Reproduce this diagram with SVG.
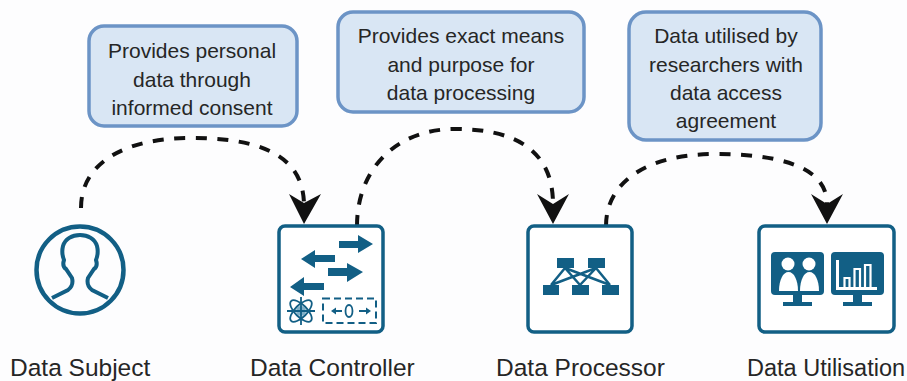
<svg xmlns="http://www.w3.org/2000/svg" width="907" height="381" viewBox="0 0 907 381">
<style>
text{font-family:"Liberation Sans",Arial,sans-serif;fill:#262626}
.note{font-size:21px;text-anchor:middle}
.label{font-size:24.500px}
.callout{fill:#d9e6f4;stroke:#6c94c6;stroke-width:3.500}
.frame{fill:#fff;stroke:#125f85;stroke-width:3.500}
.ink{fill:#125f85}
.line{fill:none;stroke:#125f85}
.dash{fill:none;stroke:#111;stroke-width:4;stroke-dasharray:11 10.500}
.head{fill:#111}
</style>
<rect width="907" height="381" fill="#fdfdfe"/>
<g id="connectors">
<path class="dash" d="M81,208C81,160 130,138 190,138C250,138 303,150 304,204"/>
<polygon class="head" points="304,224 289,194 304,203 321,194"/>
<path class="dash" d="M357,226C357,170 395,129 455,129C515,129 553,150 553,204"/>
<polygon class="head" points="553,224 537,194 553,204 569,194"/>
<path class="dash" d="M606,226C606,180 650,154 715,154C775,154 827,165 827,204"/>
<polygon class="head" points="827,224 811,194 827,204 843,194"/>
</g>
<g id="note-subject">
<rect class="callout" x="89" y="26" width="208" height="100" rx="15"/>
<text class="note" x="192" y="58">Provides personal</text>
<text class="note" x="192" y="87">data through</text>
<text class="note" x="192" y="115">informed consent</text>
</g>
<g id="note-controller">
<rect class="callout" x="338" y="12" width="246" height="100" rx="15"/>
<text class="note" x="461" y="43">Provides exact means</text>
<text class="note" x="461" y="72">and purpose for</text>
<text class="note" x="461" y="100">data processing</text>
</g>
<g id="note-processor">
<rect class="callout" x="629" y="12" width="192" height="128" rx="17"/>
<text class="note" x="726" y="43">Data utilised by</text>
<text class="note" x="726" y="72">researchers with</text>
<text class="note" x="726" y="100">data access</text>
<text class="note" x="726" y="128">agreement</text>
</g>
<g id="data-subject">
<circle class="line" cx="80" cy="270" r="43.500" stroke-width="4.500"/>
<path class="line" stroke-width="4" d="M52,298L68,290C72,287 73,282 72,278C70,275 68,272 66,269C63,267 63,263 64,260C62,255 62,250 63,246C65,239 72,235 80,235C88,235 95,239 97,246C98,250 98,255 96,260C97,263 97,267 94,269C92,272 90,275 88,278C87,282 88,287 92,290L108,298"/>
<text class="label" x="10" y="375.500">Data Subject</text>
</g>
<g id="data-controller">
<rect class="frame" x="279" y="226" width="104" height="106" rx="6"/>
<polygon class="ink" points="339,241 358,241 358,235 373,244 358,253 358,248 339,248"/>
<polygon class="ink" points="335,255 315,255 315,250 301,259 315,268 315,262 335,262"/>
<polygon class="ink" points="328,268 347,268 347,263 363,272 347,282 347,276 328,276"/>
<polygon class="ink" points="324,283 304,283 304,277 290,287 304,296 304,290 324,290"/>
<circle cx="301" cy="311" r="5" fill="#7fb0c8"/>
<g class="line" stroke-width="1.800">
<ellipse cx="301" cy="311" rx="14" ry="6" transform="rotate(45 301 311)"/>
<ellipse cx="301" cy="311" rx="14" ry="6" transform="rotate(-45 301 311)"/>
<path d="M301,297V325M287,311H315"/>
</g>
<rect class="line" x="323" y="298.500" width="53" height="24.500" stroke-width="2" stroke-dasharray="7 4"/>
<ellipse class="line" cx="349" cy="311" rx="3.500" ry="6" stroke-width="1.800"/>
<path class="line" stroke-width="2" d="M336,311H342M359,311H366"/>
<polygon class="ink" points="331,311 336,307.500 336,314.500"/>
<polygon class="ink" points="371,311 366,307.500 366,314.500"/>
<text class="label" x="250" y="375.500">Data Controller</text>
</g>
<g id="data-processor">
<rect class="frame" x="528" y="226" width="104" height="106" rx="6"/>
<path class="line" stroke-width="2.500" d="M565,268L551,285M565,268L580,285M565,268L610,285M596,268L551,285M596,268L580,285M596,268L610,285"/>
<rect class="ink" x="557" y="258" width="17" height="10"/>
<rect class="ink" x="588" y="258" width="17" height="10"/>
<rect class="ink" x="543" y="285" width="16" height="10"/>
<rect class="ink" x="572" y="285" width="17" height="10"/>
<rect class="ink" x="602" y="285" width="17" height="10"/>
<text class="label" x="496" y="375.500">Data Processor</text>
</g>
<g id="data-utilisation">
<rect class="frame" x="759" y="226" width="135" height="106" rx="6"/>
<rect class="ink" x="771" y="252" width="53" height="43" rx="4"/>
<path class="ink" d="M793,295h9v7h10v4h-29v-4h10z"/>
<circle cx="788" cy="264" r="6.500" fill="#fff"/>
<circle cx="809" cy="264" r="6.500" fill="#fff"/>
<path fill="#fff" d="M779,291C779,280 783,272 788.500,272C794,272 798,280 798,291z"/>
<path fill="#fff" d="M800,291C800,280 804,272 809.500,272C815,272 819,280 819,291z"/>
<rect class="ink" x="831" y="252" width="53" height="43" rx="4"/>
<path class="ink" d="M853,295h9v7h10v4h-29v-4h10z"/>
<path fill="#fff" d="M836,260h3v27h38v3h-41z"/>
<path class="line" style="stroke:#fff" stroke-width="2.200" d="M844.500,288V278H849.500V288M854.500,288V269H860V288M865,288V265H870.500V288"/>
<text class="label" x="747" y="375.500" style="font-size:23.500px">Data Utilisation</text>
</g>
</svg>
